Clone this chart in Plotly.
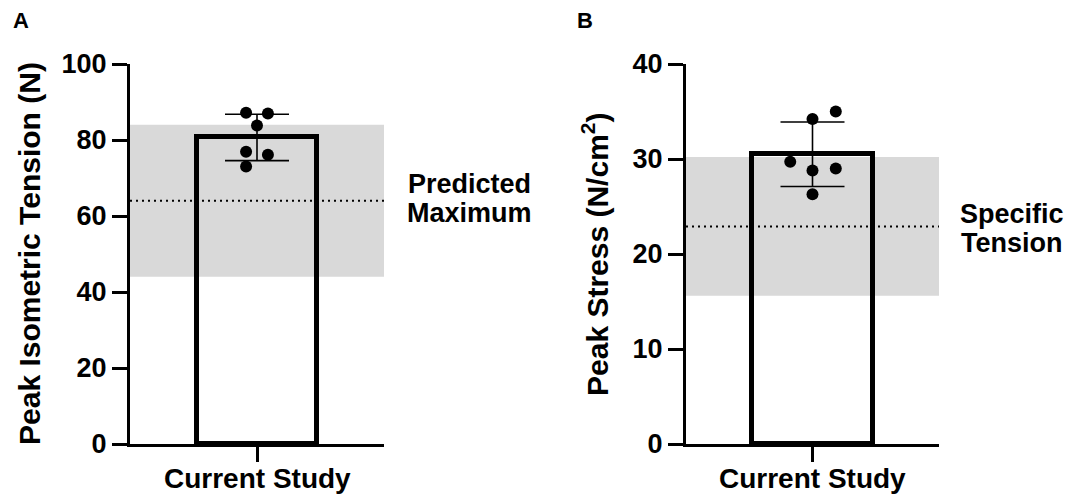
import numpy as np
import plotly.graph_objects as go

# ---- data -------------------------------------------------------------
category = ["Current Study"]

# Panel A: peak isometric tension per muscle (N)
tension_points = [87.2, 87.0, 83.8, 76.9, 76.1, 73.0]
predicted_max = 64.0          # dotted reference line
predicted_band = [44.0, 84.0]  # shaded predicted range

# Panel B: peak stress per muscle (N/cm^2)
stress_points = [34.2, 35.0, 29.7, 28.8, 29.0, 26.3]
specific_tension = 22.9
specific_band = [15.6, 30.2]

# horizontal scatter offsets for the individual points
jitter_a = [-0.043, 0.043, 0.0, -0.043, 0.043, -0.043]
jitter_b = [0.0, 0.092, -0.088, 0.0, 0.092, 0.0]

FONT = "Liberation Sans, Arial, Helvetica, sans-serif"
BAND_COLOR = "#d9d9d9"

fig = go.Figure()


def add_panel(points, jitter, xa, ya):
    pts = np.array(points)
    mean = pts.mean()
    sd = pts.std(ddof=1)
    fig.add_trace(go.Bar(
        x=[0], y=[mean], width=0.476,
        marker=dict(color="rgba(0,0,0,0)", line=dict(color="black", width=5)),
        error_y=dict(type="data", array=[sd], color="black", thickness=1.6, width=32),
        xaxis=xa, yaxis=ya, showlegend=False, hoverinfo="skip",
    ))
    fig.add_trace(go.Scatter(
        x=jitter, y=points, mode="markers",
        marker=dict(color="black", size=12),
        xaxis=xa, yaxis=ya, showlegend=False,
    ))


add_panel(tension_points, jitter_a, "x", "y")
add_panel(stress_points, jitter_b, "x2", "y2")

# shaded bands and dotted reference lines
for xr, yr, band, ref in [("x domain", "y", predicted_band, predicted_max),
                          ("x2 domain", "y2", specific_band, specific_tension)]:
    fig.add_shape(type="rect", xref=xr, yref=yr, x0=0, x1=1, y0=band[0], y1=band[1],
                  fillcolor=BAND_COLOR, line=dict(width=0), layer="below")
    fig.add_shape(type="line", xref=xr, yref=yr, x0=0, x1=1, y0=ref, y1=ref,
                  line=dict(color="black", width=2, dash="2px,4px"), layer="below")

axis_common = dict(
    showline=True, linecolor="black", linewidth=3, showgrid=False, zeroline=False,
    ticks="outside", ticklen=15, tickwidth=3, tickcolor="black", automargin=False,
)
ytick_font = dict(family=FONT, size=27, color="black", weight="bold")

W = 1073.0
fig.update_layout(
    width=1073, height=500,
    margin=dict(l=0, r=0, t=0, b=0, autoexpand=False),
    paper_bgcolor="white", plot_bgcolor="rgba(0,0,0,0)",
    font=dict(family=FONT, color="black"),
    bargap=0,
    xaxis=dict(domain=[130 / W, 384 / W], range=[-0.5, 0.5], anchor="y",
               tickvals=[0], showticklabels=False, **axis_common),
    yaxis=dict(domain=[0.112, 0.872], range=[0, 100], dtick=20, anchor="x",
               tickfont=ytick_font, **axis_common),
    xaxis2=dict(domain=[686 / W, 939 / W], range=[-0.5, 0.5], anchor="y2",
                tickvals=[0], showticklabels=False, **axis_common),
    yaxis2=dict(domain=[0.112, 0.872], range=[0, 40], dtick=10, anchor="x2",
                tickfont=ytick_font, **axis_common),
)

title_font = dict(family=FONT, size=30, color="black", weight="bold")
label_font = dict(family=FONT, size=27, color="black", weight="bold")
cat_font = dict(family=FONT, size=28, color="black", weight="bold")
letter_font = dict(family=FONT, size=22, color="black", weight="bold")

annotations = [
    # y-axis titles
    dict(text="Peak Isometric Tension (N)", x=29 / W, y=0.492, textangle=-90, font=title_font),
    dict(text="Peak Stress (N/cm<sup>2</sup>)", x=595 / W, y=0.492, textangle=-90, font=title_font),
    # panel letters
    dict(text="A", x=21 / W, y=0.96, font=letter_font),
    dict(text="B", x=585 / W, y=0.96, font=letter_font),
    # category labels under each x-axis tick
    dict(text=category[0], x=257 / W, y=0.043, font=cat_font),
    dict(text=category[0], x=812 / W, y=0.043, font=cat_font),
]

# labels for the reference lines
side_labels = [
    ("Predicted", 469 / W, 0.632),
    ("Maximum", 469 / W, 0.574),
    ("Specific", 1012 / W, 0.572),
    ("Tension", 1012 / W, 0.514),
]
for txt, x, y in side_labels:
    annotations.append(dict(text=txt, x=x, y=y, font=label_font))

for a in annotations:
    a.update(xref="paper", yref="paper", showarrow=False, xanchor="center", yanchor="middle")

fig.update_layout(annotations=annotations)

fig.write_html("out.html")
